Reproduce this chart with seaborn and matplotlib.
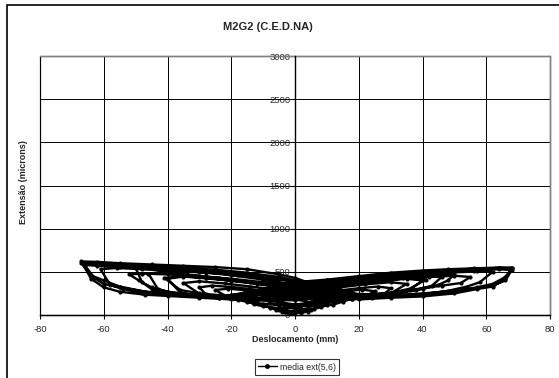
import numpy as np
import pandas as pd
import seaborn as sns
import matplotlib
matplotlib.use("Agg")
import matplotlib.pyplot as plt
from matplotlib.patches import Rectangle
from matplotlib.lines import Line2D

# ---- data ----
c1_x = [0, -2, -4, -5, -3, -1, 0, 2, 4, 5, 3, 1, 0]
c1_y = [0, 15, 35, 55, 60, 45, 30, 25, 40, 55, 60, 45, 35]
c2_x = [0, -3, -6, -8, -10, -8, -5, -2, 0, 3, 6, 8, 10, 8, 5, 2, 0]
c2_y = [35, 40, 60, 85, 120, 135, 120, 100, 80, 65, 70, 90, 115, 130, 120, 100, 85]
c3_x = [0, -5, -10, -13, -15, -12, -8, -4, 0, 4, 8, 12, 15, 12, 8, 4, 0]
c3_y = [85, 80, 100, 125, 165, 180, 165, 145, 120, 100, 100, 120, 155, 170, 160, 140, 120]
c4_x = [0, -5, -10, -15, -18, -20, -16, -10, -5, 0, 5, 10, 15, 18, 20, 16, 10, 5, 0]
c4_y = [120, 115, 130, 150, 180, 230, 250, 235, 210, 180, 150, 140, 160, 190, 225, 245, 225, 200, 170]
c13_x = [0, -6, -12, -18, -22, -25, -21, -15, -8, 0, 6, 12, 18, 22, 25, 21, 15, 8, 0]
c13_y = [170, 175, 180, 195, 225, 290, 305, 285, 255, 215, 180, 170, 185, 215, 275, 295, 270, 240, 200]
c5_x = [0, -6, -12, -18, -24, -28, -30, -26, -20, -14, -8, 0, 6, 12, 18, 24, 28, 30, 26, 20, 14, 8, 0]
c5_y = [200, 180, 165, 175, 200, 240, 320, 340, 325, 300, 270, 230, 190, 170, 180, 200, 240, 310, 330, 310, 285, 255, 220]
c14_x = [0, -8, -16, -24, -30, -35, -30, -22, -14, -6, 0, 8, 16, 24, 30, 35, 30, 22, 14, 6, 0]
c14_y = [220, 205, 190, 210, 245, 370, 390, 365, 330, 295, 265, 210, 185, 205, 250, 360, 380, 355, 320, 285, 250]
c6_x = [0, -8, -16, -24, -30, -36, -40, -35, -28, -20, -12, -5, 0, 8, 16, 24, 30, 36, 40, 35, 28, 20, 12, 5, 0]
c6_y = [250, 210, 180, 195, 215, 260, 420, 445, 425, 395, 360, 320, 300, 230, 200, 215, 240, 290, 400, 420, 400, 370, 335, 300, 280]
c7_x = [0, -8, -16, -24, -30, -36, -41, -35, -28, -20, -12, -5, 0, 8, 16, 24, 30, 36, 41, 35, 28, 20, 12, 5, 0]
c7_y = [280, 240, 225, 230, 250, 290, 430, 450, 430, 400, 365, 330, 310, 250, 220, 230, 255, 305, 410, 430, 410, 380, 345, 310, 290]
c15_x = [0, -10, -20, -30, -38, -43, -46, -42, -34, -24, -14, -5, 0, 10, 20, 30, 38, 43, 46, 42, 34, 24, 14, 5, 0]
c15_y = [290, 250, 210, 220, 250, 300, 480, 495, 470, 430, 385, 340, 320, 250, 215, 240, 290, 340, 440, 455, 430, 395, 355, 315, 300]
c8_x = [0, -10, -20, -30, -40, -45, -48, -50, -46, -40, -30, -20, -10, 0, 10, 20, 30, 40, 45, 48, 50, 46, 40, 30, 20, 10, 0]
c8_y = [300, 240, 200, 210, 250, 300, 380, 545, 555, 535, 500, 460, 410, 350, 260, 220, 250, 300, 350, 400, 470, 480, 465, 430, 390, 350, 310]
c9_x = [0, -10, -20, -30, -40, -45, -49, -52, -48, -40, -30, -20, -10, 0, 10, 20, 30, 40, 46, 52, 55, 50, 42, 30, 20, 10, 0]
c9_y = [310, 260, 215, 225, 270, 320, 400, 470, 480, 470, 450, 420, 380, 330, 270, 230, 260, 310, 340, 370, 440, 455, 440, 410, 375, 340, 300]
c16_x = [0, -10, -20, -30, -40, -48, -54, -58, -61, -56, -48, -38, -28, -18, -8, 0,
         10, 20, 30, 40, 48, 54, 58, 62, 57, 48, 38, 28, 18, 8, 0]
c16_y = [300, 250, 200, 210, 230, 260, 300, 350, 530, 545, 530, 510, 490, 465, 420, 390,
         300, 200, 210, 240, 280, 330, 380, 500, 505, 490, 470, 440, 405, 370, 330]
c10_x = [0, -10, -20, -30, -40, -47, -55, -60, -64, -67, -62, -55, -45, -35, -25, -15, -5, 0,
         10, 20, 30, 40, 50, 57, 62, 66, 68, 64, 56, 48, 40, 30, 20, 10, 0]
c10_y = [330, 240, 180, 200, 220, 235, 270, 320, 420, 620, 615, 600, 585, 570, 555, 530, 470, 430,
         300, 180, 200, 215, 250, 300, 330, 420, 550, 550, 540, 530, 515, 490, 450, 410, 380]
c11_x = [0, -10, -20, -30, -40, -47, -55, -60, -64, -67, -62, -55, -45, -35, -25, -15, -5, 0,
         10, 20, 30, 40, 50, 57, 62, 66, 68, 64, 56, 48, 40, 30, 20, 10, 0]
c11_y = [380, 300, 230, 230, 250, 270, 330, 400, 460, 600, 590, 575, 560, 545, 525, 490, 440, 400,
         330, 240, 230, 250, 280, 320, 360, 440, 540, 545, 535, 520, 505, 475, 440, 400, 360]
c12_x = [0, -10, -20, -30, -40, -47, -55, -60, -63, -66, -62, -55, -45, -35, -25, -15, -5, 0,
         10, 20, 30, 40, 50, 57, 62, 66, 68, 64, 56, 48, 40, 30, 20, 10, 0]
c12_y = [360, 290, 220, 220, 240, 270, 320, 360, 430, 580, 570, 555, 540, 520, 500, 470, 420, 380,
         310, 220, 215, 235, 270, 310, 340, 400, 520, 530, 515, 500, 480, 455, 420, 385, 350]

x_ticks = [-80, -60, -40, -20, 0, 20, 40, 60, 80]
y_ticks = [0, 500, 1000, 1500, 2000, 2500, 3000]
series_name = "media ext(5,6)"
title = "M2G2 (C.E.D.NA)"
x_label = "Deslocamento (mm)"
y_label = "Extensão (microns)"

cycles_x = [c1_x, c2_x, c3_x, c4_x, c13_x, c5_x, c14_x, c6_x, c7_x, c15_x, c8_x, c9_x, c16_x, c10_x, c11_x, c12_x]
cycles_y = [c1_y, c2_y, c3_y, c4_y, c13_y, c5_y, c14_y, c6_y, c7_y, c15_y, c8_y, c9_y, c16_y, c10_y, c11_y, c12_y]
xs = [v for c in cycles_x for v in c]
ys = [v for c in cycles_y for v in c]
df = pd.DataFrame({"x": xs, "y": ys, "serie": series_name})

# ---- drawing ----
sns.set_theme(style="white")
plt.rcParams["font.family"] = ["Liberation Sans", "DejaVu Sans"]

fig = plt.figure(figsize=(5.59, 3.78), dpi=100)
ax = fig.add_axes([40 / 559, 63 / 378, 510 / 559, 259 / 378])

sns.lineplot(data=df, x="x", y="y", hue="serie", palette=["black"], sort=False,
             estimator=None, marker="o", markersize=3.0, markeredgewidth=0,
             linewidth=1.7, ax=ax, legend=False, zorder=4)

ax.set_xlim(-80, 80)
ax.set_ylim(0, 3000)

ax.spines["left"].set_position(("data", 0))
ax.spines["left"].set_color("black")
ax.spines["left"].set_linewidth(1.0)
ax.spines["left"].set_zorder(3)
ax.spines["bottom"].set_color("black")
ax.spines["bottom"].set_linewidth(1.0)
for s in ["top", "right"]:
    ax.spines[s].set_color("#808080")
    ax.spines[s].set_linewidth(1.0)
ax.add_patch(Rectangle((0, 0), 1, 1, transform=ax.transAxes, fill=False,
                       edgecolor="#808080", linewidth=1.0, zorder=0.5, clip_on=False))

ax.set_xticks(x_ticks)
ax.set_yticks(y_ticks)
ax.set_xticklabels([str(v) for v in x_ticks])
ax.set_yticklabels([str(v) for v in y_ticks])
ax.grid(True, color="black", linewidth=0.7)
ax.set_axisbelow(True)
ax.tick_params(axis="both", which="both", direction="out", length=3, width=0.8,
               color="black", labelsize=6.8, left=True, bottom=True)
ax.tick_params(axis="x", pad=4)
ax.tick_params(axis="y", pad=0.5)

ax.set_xlabel("")
ax.set_ylabel("")
fig.text(295 / 559, 1 - 339 / 378, x_label, ha="center", va="center",
         fontsize=6.5, fontweight="bold")
fig.text(24 / 559, 1 - 182 / 378, y_label, ha="center", va="center",
         rotation=90, fontsize=6.5, fontweight="bold")
fig.text(268 / 559, 1 - 27 / 378, title, ha="center", va="center",
         fontsize=8, fontweight="bold")

# legend
handle = Line2D([0], [0], color="black", linewidth=1.0, marker="o", markersize=2.5)
leg = fig.legend([handle], [series_name], loc="center",
                 bbox_to_anchor=(297 / 559, 1 - 367 / 378), fontsize=6.3,
                 frameon=True, fancybox=False, edgecolor="black", handlelength=2.2,
                 handletextpad=0.4, borderpad=0.35, borderaxespad=0)
leg.get_frame().set_linewidth(0.8)

# outer chart-area border (cropped on the right and bottom)
fig.add_artist(Rectangle((7 / 559, -0.2), 1.2, 1.2 - 5 / 378, transform=fig.transFigure,
                         fill=False, edgecolor="black", linewidth=1.2, clip_on=False))

fig.savefig("out.png", dpi=100)
